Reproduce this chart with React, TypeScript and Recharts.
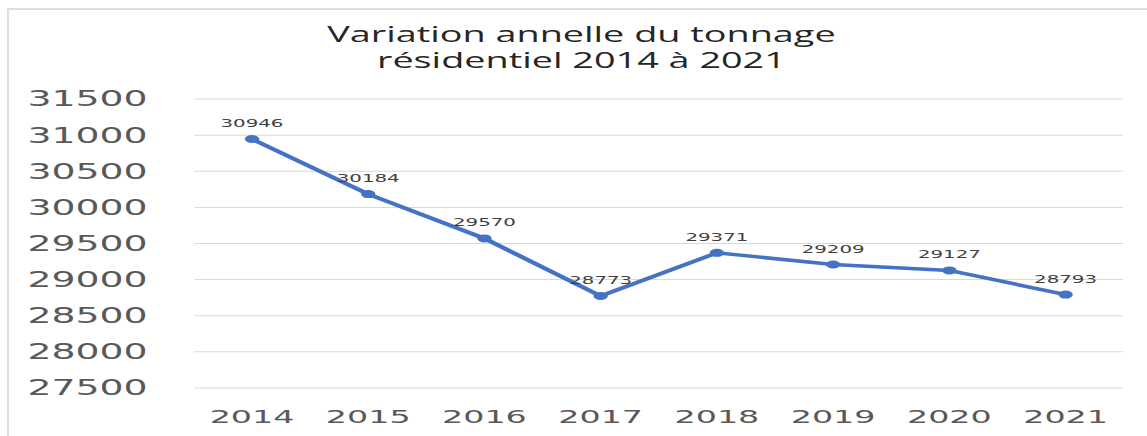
import React from 'react';
import { LineChart, Line, XAxis, YAxis, CartesianGrid, LabelList } from 'recharts';

// Données
const years = ['2014', '2015', '2016', '2017', '2018', '2019', '2020', '2021'];
const tonnage = [30946, 30184, 29570, 28773, 29371, 29209, 29127, 28793];
const yTicks = [27500, 28000, 28500, 29000, 29500, 30000, 30500, 31000, 31500];

const data = years.map((year, i) => ({ year, tonnage: tonnage[i] }));

// l'image d'origine est étirée horizontalement
const STRETCH = 1.8;
const OUTER_W = 1147;
const OUTER_H = 436;
const INNER_W = OUTER_W / STRETCH;

const PLOT_LEFT = 108;
const PLOT_RIGHT = 624;
const PLOT_TOP = 99;
const PLOT_BOTTOM = 388;

const App: React.FC = () => {
  return (
    <div
      style={{
        position: 'absolute',
        left: 0,
        top: 0,
        width: OUTER_W,
        height: OUTER_H,
        overflow: 'hidden',
        background: '#fff',
      }}
    >
      {/* cadre du graphique */}
      <div
        style={{
          position: 'absolute',
          left: 7,
          top: 8,
          width: OUTER_W + 20,
          height: OUTER_H + 20,
          border: '2px solid #dedede',
          boxSizing: 'border-box',
        }}
      />
      <div
        style={{
          position: 'absolute',
          left: 0,
          top: 0,
          width: INNER_W,
          height: OUTER_H,
          transform: `scaleX(${STRETCH})`,
          transformOrigin: '0 0',
        }}
      >
        <div
          style={{
            position: 'absolute',
            left: 0,
            top: 21,
            width: 646,
            textAlign: 'center',
            fontFamily: '"Open Sans", sans-serif',
            fontSize: 21,
            lineHeight: '26px',
            color: '#262626',
          }}
        >
          <div>Variation annelle du tonnage</div>
          <div>résidentiel 2014 à 2021</div>
        </div>
        <LineChart
          width={INNER_W}
          height={OUTER_H}
          data={data}
          margin={{ top: PLOT_TOP, right: INNER_W - PLOT_RIGHT, left: 0, bottom: 0 }}
        >
          <CartesianGrid vertical={false} stroke="#d9d9d9" strokeWidth={1} />
          <XAxis
            dataKey="year"
            height={OUTER_H - PLOT_BOTTOM}
            padding={{ left: 32, right: 32 }}
            axisLine={false}
            tickLine={false}
            tickSize={0}
            tickMargin={22}
            tick={{ fontSize: 18.5, fill: '#595959', fontFamily: '"DejaVu Sans", sans-serif' }}
          />
          <YAxis
            width={PLOT_LEFT}
            domain={[27500, 31500]}
            ticks={yTicks}
            axisLine={false}
            tickLine={false}
            tickSize={0}
            tickMargin={26}
            tick={{ fontSize: 21, fill: '#595959', fontFamily: '"DejaVu Sans", sans-serif' }}
          />
          <Line
            type="linear"
            dataKey="tonnage"
            stroke="#4472C4"
            strokeWidth={3.5}
            dot={{ r: 4, fill: '#4472C4', stroke: 'none' }}
            activeDot={false}
            isAnimationActive={false}
          >
            <LabelList
              dataKey="tonnage"
              position="top"
              offset={12}
              style={{ fontSize: 11, fill: '#404040', fontFamily: '"DejaVu Sans", sans-serif' }}
            />
          </Line>
        </LineChart>
      </div>
    </div>
  );
};

export default App;
